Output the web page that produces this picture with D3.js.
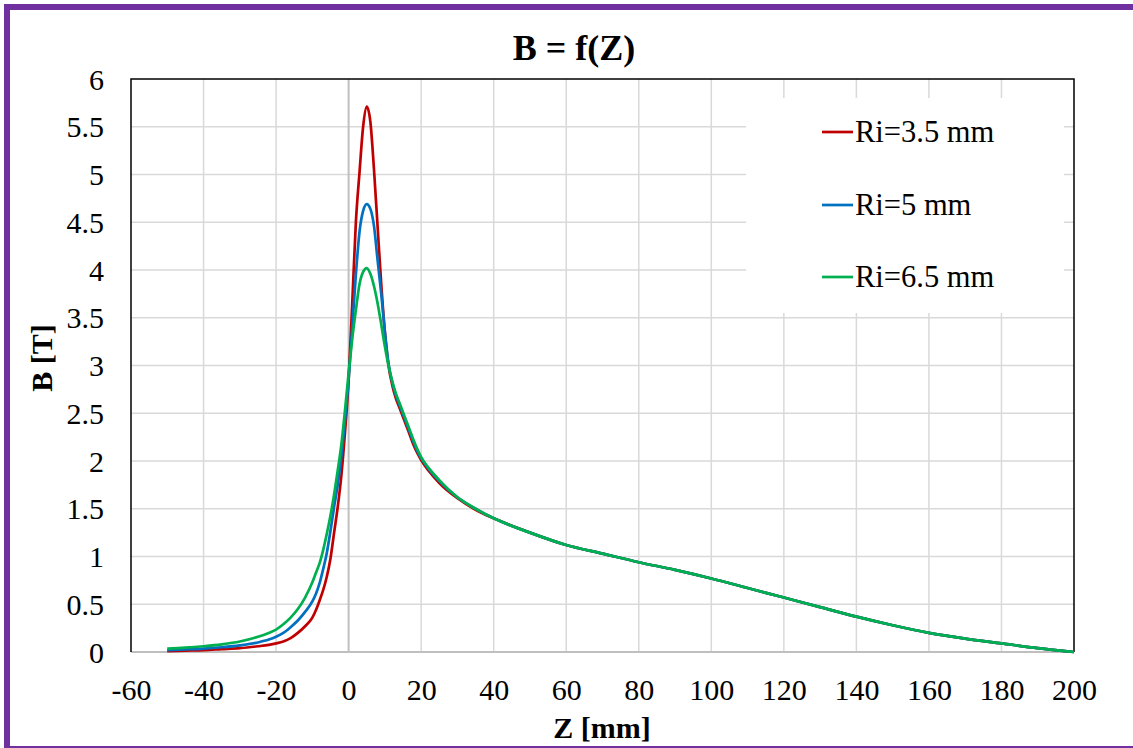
<!DOCTYPE html>
<html>
<head>
<meta charset="utf-8">
<script src="https://cdn.jsdelivr.net/npm/d3@7"></script>
<style>
html,body{margin:0;padding:0;background:#fff;}
svg{display:block;}
text{font-family:"Liberation Serif","Times New Roman",serif;fill:#000;}
</style>
</head>
<body>
<svg id="chart" width="1133" height="748"></svg>
<script>
// ---- data ----
const zValues = [-50,-45,-40,-35,-30,-25,-22,-20,-18,-16,-14,-12,-10,-9,-8,-7,-6,-5,-4,-3,-2,-1,0,1,2,3,4,5,6,7,8,9,10,11,12,13,14,15,16,17,18,19,20,22,25,30,35,40,50,60,70,80,90,100,110,120,130,140,150,160,170,180,190,200];
const bRi35 = [0.01,0.015,0.02,0.03,0.04,0.06,0.075,0.09,0.11,0.145,0.2,0.27,0.36,0.44,0.54,0.65,0.79,0.98,1.25,1.52,1.85,2.3,2.85,3.65,4.5,5.02,5.5,5.71,5.55,5.05,4.45,3.85,3.35,3.0,2.8,2.66,2.56,2.46,2.36,2.26,2.16,2.08,2.01,1.9,1.77,1.61,1.49,1.4,1.25,1.12,1.03,0.94,0.86,0.77,0.67,0.57,0.47,0.37,0.28,0.2,0.14,0.09,0.04,0.0];
const bRi5  = [0.02,0.027,0.035,0.05,0.07,0.1,0.13,0.16,0.2,0.26,0.33,0.42,0.53,0.61,0.72,0.87,1.04,1.27,1.52,1.75,2.05,2.42,2.85,3.4,3.95,4.4,4.62,4.69,4.64,4.46,4.1,3.75,3.35,3.02,2.83,2.69,2.59,2.49,2.39,2.29,2.19,2.1,2.03,1.92,1.79,1.62,1.5,1.4,1.25,1.12,1.03,0.94,0.86,0.77,0.67,0.57,0.47,0.37,0.28,0.2,0.14,0.09,0.04,0.0];
const bRi65 = [0.035,0.045,0.06,0.08,0.11,0.16,0.2,0.235,0.29,0.36,0.45,0.57,0.73,0.83,0.93,1.07,1.24,1.43,1.65,1.9,2.17,2.53,2.92,3.28,3.58,3.85,3.98,4.02,3.96,3.83,3.65,3.43,3.2,3.0,2.84,2.71,2.61,2.51,2.41,2.31,2.21,2.12,2.04,1.93,1.8,1.62,1.5,1.4,1.25,1.12,1.03,0.94,0.86,0.77,0.67,0.57,0.47,0.37,0.28,0.2,0.14,0.09,0.04,0.0];
const seriesNames = ["Ri=3.5 mm","Ri=5 mm","Ri=6.5 mm"];
const seriesColors = ["#C00000","#0070C0","#00B050"];
const xTicks = [-60,-40,-20,0,20,40,60,80,100,120,140,160,180,200];
const yTicks = [0,0.5,1,1.5,2,2.5,3,3.5,4,4.5,5,5.5,6];
const titleText = "B = f(Z)";
const xTitle = "Z [mm]";
const yTitle = "B [T]";

const FONT = "'Liberation Serif','Times New Roman',serif";
const svg = d3.select("#chart");
const plot = {left:131, top:79, right:1074, bottom:652};

// purple outer frame
svg.append("rect").attr("x",7).attr("y",7).attr("width",1200).attr("height",742)
  .attr("fill","#fff").attr("stroke","#7030A0").attr("stroke-width",6);

const x = d3.scaleLinear().domain([-60,200]).range([plot.left, plot.right]);
const y = d3.scaleLinear().domain([0,6]).range([plot.bottom, plot.top]);

// gridlines
const grid = svg.append("g");
grid.selectAll("line.h").data(yTicks.filter(d=>d>0 && d<6)).join("line")
  .attr("x1",plot.left).attr("x2",plot.right)
  .attr("y1",d=>y(d)).attr("y2",d=>y(d))
  .attr("stroke","#d9d9d9").attr("stroke-width",1.5);
grid.selectAll("line.v").data(xTicks.filter(d=>d>-60 && d<200 && d!==0)).join("line")
  .attr("y1",plot.top).attr("y2",plot.bottom)
  .attr("x1",d=>x(d)).attr("x2",d=>x(d))
  .attr("stroke","#d9d9d9").attr("stroke-width",1.5);
// vertical axis line at z=0 (grey)
svg.append("line").attr("x1",x(0)).attr("x2",x(0)).attr("y1",plot.top).attr("y2",plot.bottom)
  .attr("stroke","#bfbfbf").attr("stroke-width",2);
// horizontal axis line (grey)
svg.append("line").attr("x1",plot.left).attr("x2",plot.right).attr("y1",y(0)).attr("y2",y(0))
  .attr("stroke","#bfbfbf").attr("stroke-width",2);

// plot-area border (black top/left/right)
svg.append("path")
  .attr("d",`M${plot.left},${plot.bottom}V${plot.top}H${plot.right}V${plot.bottom}`)
  .attr("fill","none").attr("stroke","#000").attr("stroke-width",1.5);

// legend background
svg.append("rect").attr("x",746).attr("y",98).attr("width",318).attr("height",215).attr("fill","#fff");

// axes
const xAxis = d3.axisBottom(x).tickValues(xTicks).tickSize(0).tickPadding(0).tickFormat(d=>String(d));
const gx = svg.append("g").attr("transform",`translate(0,${plot.bottom})`).call(xAxis);
gx.attr("font-family",null);
gx.select(".domain").remove();
gx.selectAll("text").style("font-family",FONT).style("font-size","30px")
  .attr("y",48).attr("dy",0).attr("fill","#000");

const yAxis = d3.axisLeft(y).tickValues(yTicks).tickSize(0).tickPadding(0).tickFormat(d=>String(d));
const gy = svg.append("g").attr("transform",`translate(104,0)`).call(yAxis);
gy.attr("font-family",null);
gy.select(".domain").remove();
gy.selectAll("text").style("font-family",FONT).style("font-size","30px")
  .attr("x",0).attr("dy","0.34em").attr("fill","#000");

// series
const line = d3.line().x(d=>x(d[0])).y(d=>y(d[1])).curve(d3.curveMonotoneX);
const allSeries = [bRi35,bRi5,bRi65];
svg.append("g").selectAll("path").data(allSeries).join("path")
  .attr("d",vals=>line(zValues.map((z,i)=>[z,vals[i]])))
  .attr("fill","none")
  .attr("stroke",(d,i)=>seriesColors[i])
  .attr("stroke-width",2.7)
  .attr("stroke-linejoin","round");

// legend
const legendY = [132,205,277];
const lg = svg.append("g");
seriesNames.forEach((name,i)=>{
  lg.append("line").attr("x1",822).attr("x2",853).attr("y1",legendY[i]).attr("y2",legendY[i])
    .attr("stroke",seriesColors[i]).attr("stroke-width",2.7);
  lg.append("text").attr("x",855).attr("y",legendY[i]+10)
    .style("font-family",FONT).style("font-size","30.5px").text(name);
});

// titles
svg.append("text").attr("x",574).attr("y",60).attr("text-anchor","middle")
  .style("font-family",FONT).style("font-size","36px").style("font-weight","bold").text(titleText);
svg.append("text").attr("x",602).attr("y",738).attr("text-anchor","middle")
  .style("font-family",FONT).style("font-size","30px").style("font-weight","bold").text(xTitle);
svg.append("text").attr("transform","translate(52,358) rotate(-90)").attr("text-anchor","middle")
  .style("font-family",FONT).style("font-size","30px").style("font-weight","bold").text(yTitle);
</script>
</body>
</html>
